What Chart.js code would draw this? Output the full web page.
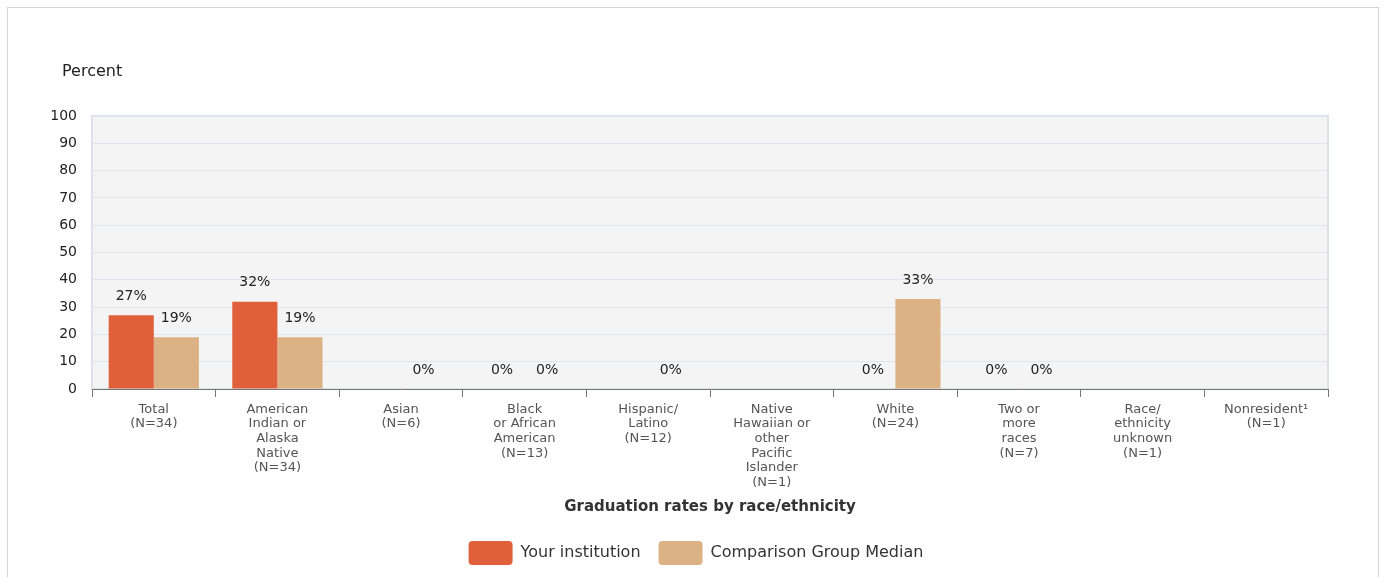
<!DOCTYPE html>
<html>
<head>
<meta charset="utf-8">
<script src="https://cdn.jsdelivr.net/npm/chart.js@4/dist/chart.umd.min.js"></script>
<style>
  html, body { margin: 0; padding: 0; background: #fff; overflow: hidden; }
  #frame { position: absolute; left: 7px; top: 7px; width: 1370px; height: 600px; border: 1px solid #d4d4d4; }
  #wrap { position: absolute; left: 0; top: 0; width: 1392px; height: 577px; }
</style>
</head>
<body>
<div id="frame"></div>
<div id="wrap"><canvas id="chart"></canvas></div>
<script>
const categories = [
  ['Total', '(N=34)'],
  ['American', 'Indian or', 'Alaska', 'Native', '(N=34)'],
  ['Asian', '(N=6)'],
  ['Black', 'or African', 'American', '(N=13)'],
  ['Hispanic/', 'Latino', '(N=12)'],
  ['Native', 'Hawaiian or', 'other', 'Pacific', 'Islander', '(N=1)'],
  ['White', '(N=24)'],
  ['Two or', 'more', 'races', '(N=7)'],
  ['Race/', 'ethnicity', 'unknown', '(N=1)'],
  ['Nonresident\u00b9', '(N=1)'],
];
const yourInstitution = [27, 32, null, 0, null, null, 0, 0, null, null];
const comparisonMedian = [19, 19, 0, 0, 0, null, 33, 0, null, null];
const yTicks = [0, 10, 20, 30, 40, 50, 60, 70, 80, 90, 100];

const FONT = '"DejaVu Sans", "Liberation Sans", Arial, sans-serif';

// plot background, border and the "Percent" caption
const plotFrame = {
  id: 'plotFrame',
  beforeDraw(chart) {
    const { ctx, chartArea: a } = chart;
    ctx.save();
    ctx.fillStyle = '#f4f4f4';
    ctx.fillRect(a.left, a.top, a.right - a.left, a.bottom - a.top);
    ctx.strokeStyle = '#dde2ea';
    ctx.lineWidth = 2;
    ctx.strokeRect(a.left, a.top, a.right - a.left, a.bottom - a.top);
    ctx.fillStyle = '#222';
    ctx.font = '16px ' + FONT;
    ctx.textBaseline = 'middle';
    ctx.fillText('Percent', a.left - 30, a.top - 44);
    ctx.restore();
  },
};

// "NN%" labels above bars
const valueLabels = {
  id: 'valueLabels',
  afterDatasetsDraw(chart) {
    const { ctx } = chart;
    ctx.save();
    ctx.fillStyle = '#222';
    ctx.font = '14px ' + FONT;
    ctx.textAlign = 'center';
    ctx.textBaseline = 'middle';
    chart.data.datasets.forEach((ds, i) => {
      chart.getDatasetMeta(i).data.forEach((bar, j) => {
        const v = ds.data[j];
        if (v === null || v === undefined) return;
        ctx.fillText(v + '%', bar.x, bar.y - 19);
      });
    });
    ctx.restore();
  },
};

new Chart(document.getElementById('chart'), {
  type: 'bar',
  data: {
    labels: categories,
    datasets: [
      {
        label: 'Your institution',
        data: yourInstitution,
        backgroundColor: '#e0603c',
      },
      {
        label: 'Comparison Group Median',
        data: comparisonMedian,
        backgroundColor: '#dcb285',
      },
    ],
  },
  options: {
    responsive: true,
    maintainAspectRatio: false,
    animation: false,
    categoryPercentage: 0.73,
    barPercentage: 1,
    layout: { padding: { left: 0, right: 0, top: 116, bottom: 2 } },
    plugins: {
      tooltip: { enabled: false },
      legend: {
        position: 'bottom',
        labels: {
          boxWidth: 44,
          boxHeight: 24,
          useBorderRadius: true,
          borderRadius: 4,
          padding: 18,
          color: '#333',
          font: { family: FONT, size: 16 },
        },
      },
    },
    scales: {
      x: {
        afterFit(s) { s.height = 134; },
        grid: {
          offset: true,
          drawOnChartArea: false,
          drawTicks: true,
          tickLength: 8,
          color: '#777',
        },
        border: { color: '#777', width: 1 },
        ticks: {
          padding: 5,
          maxRotation: 0,
          autoSkip: false,
          color: '#555',
          font: { family: FONT, size: 13, lineHeight: 1.13 },
        },
        title: {
          display: true,
          text: 'Graduation rates by race/ethnicity',
          color: '#333',
          font: { family: FONT, size: 15, weight: 'bold' },
          padding: { top: 0, bottom: 7 },
        },
      },
      y: {
        min: 0,
        max: 100,
        afterFit(s) { s.width = 92; },
        afterBuildTicks(s) { s.ticks = yTicks.map((v) => ({ value: v })); },
        grid: { color: '#dce6f1', drawTicks: false },
        border: { display: false },
        ticks: {
          padding: 15,
          color: '#222',
          font: { family: FONT, size: 14 },
        },
      },
      // empty right-hand spacer so the legend sits where the original has it
      yRight: {
        position: 'right',
        afterFit(s) { s.width = 64; },
        grid: { display: false },
        border: { display: false },
        ticks: { display: false },
      },
    },
  },
  plugins: [plotFrame, valueLabels],
});
</script>
</body>
</html>
